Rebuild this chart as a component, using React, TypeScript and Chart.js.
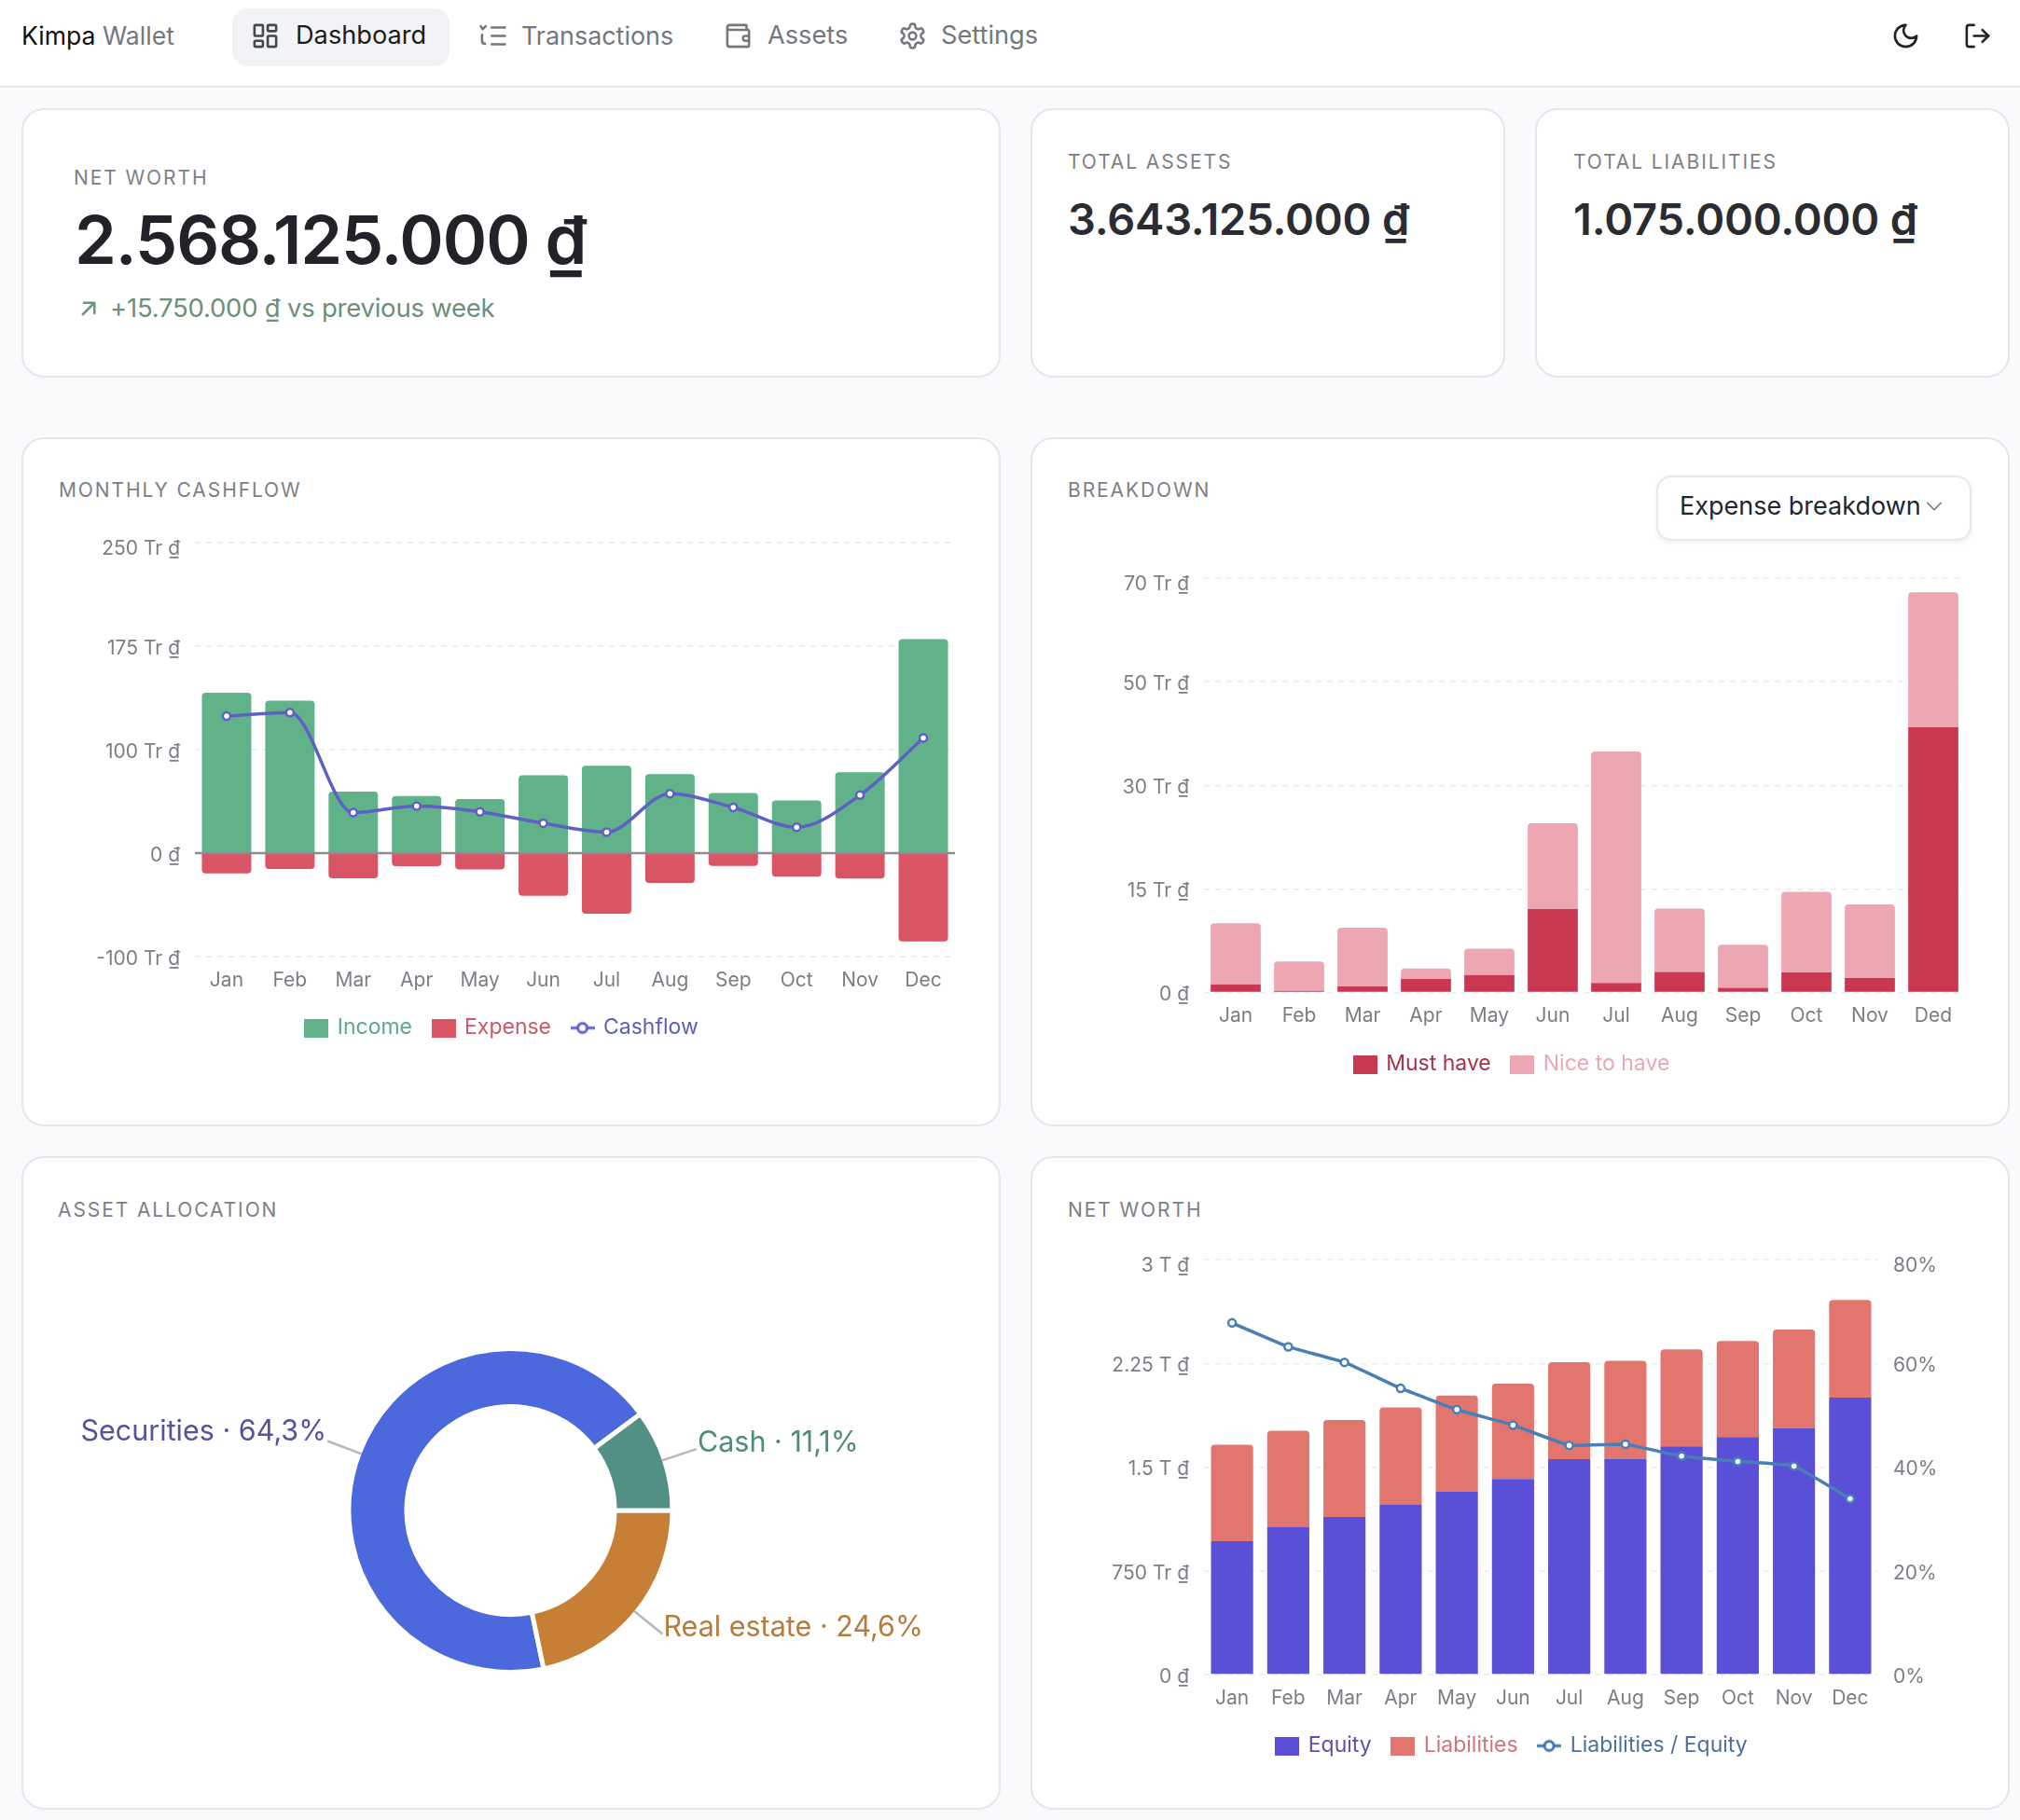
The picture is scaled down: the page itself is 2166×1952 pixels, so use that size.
import { useEffect, useRef } from "react";
import { Chart, registerables } from "chart.js";

Chart.register(...registerables);
Chart.defaults.font.family = "Inter";
Chart.defaults.animation = false;

const months = ["Jan", "Feb", "Mar", "Apr", "May", "Jun", "Jul", "Aug", "Sep", "Oct", "Nov", "Dec"];
const breakdownMonths = ["Jan", "Feb", "Mar", "Apr", "May", "Jun", "Jul", "Aug", "Sep", "Oct", "Nov", "Ded"];

// millions of dong
const income = [135.6, 128.9, 52, 48.3, 45.7, 65.8, 73.9, 66.9, 50.9, 44.6, 68.4, 181];
const expense = [-17.1, -13.4, -21.2, -11.1, -13.7, -36, -51.3, -25.3, -10.8, -20, -21.5, -74.7];
const cashflow = [115.9, 118.9, 34.2, 39.8, 34.9, 25.3, 17.8, 50.2, 38.6, 21.9, 49, 97.3];
const cashflowTicks = ["-100 Tr ₫", "0 ₫", "100 Tr ₫", "175 Tr ₫", "250 Tr ₫"];

const mustHave = [1.41, 0.3, 1.04, 2.3, 2.97, 14.1, 1.63, 3.49, 0.82, 3.41, 2.45, 44.8];
const niceToHave = [10.3, 4.96, 9.93, 1.78, 4.43, 14.5, 39.07, 10.7, 7.26, 13.6, 12.45, 22.8];
const breakdownTicks = ["0 ₫", "15 Tr ₫", "30 Tr ₫", "50 Tr ₫", "70 Tr ₫"];

const equity = [964, 1065, 1139, 1231, 1325, 1414, 1558, 1561, 1650, 1717, 1782, 2002];
const liabilities = [698, 698, 701, 701, 692, 689, 701, 707, 701, 695, 713, 707];
const leverage = [67.8, 63.2, 60.2, 55.2, 51.1, 48.1, 44.2, 44.4, 42.1, 41.1, 40.2, 33.9];
const netWorthTicks = ["0 ₫", "750 Tr ₫", "1.5 T ₫", "2.25 T ₫", "3 T ₫"];
const leverageTicks = ["0%", "20%", "40%", "60%", "80%"];

// slices as drawn (their printed labels differ a little from the arc sizes)
const assetShares = [68.1, 10.2, 21.7];
const assetLabels = ["Securities · 64,3%", "Cash · 11,1%", "Real estate · 24,6%"];
const assetColors = ["#4b68dc", "#528f85", "#c67f35"];
const assetTextColors = ["#55529f", "#4f8a7d", "#b87b3e"];
const assetLabelLift = [10, 6, 7];

const TICK = "#7b7e85";
const GRID = "#e9eaee";

// an empty first line pushes each value label down by half the line height
const tickFont = (ctx: any) => ({
  size: 21,
  lineHeight: (ctx.tick && ctx.tick.value === ctx.scale.max ? 14 : 5) / 21,
});

function boxMarker(color: string) {
  const c = document.createElement("canvas");
  c.width = 26;
  c.height = 20;
  const g = c.getContext("2d")!;
  g.fillStyle = color;
  g.fillRect(0, 0, 26, 20);
  return c;
}

function lineMarker(color: string) {
  const c = document.createElement("canvas");
  c.width = 26;
  c.height = 20;
  const g = c.getContext("2d")!;
  g.strokeStyle = color;
  g.lineWidth = 3;
  g.beginPath();
  g.moveTo(0, 10);
  g.lineTo(26, 10);
  g.stroke();
  g.fillStyle = "#fff";
  g.beginPath();
  g.arc(13, 10, 5, 0, Math.PI * 2);
  g.fill();
  g.stroke();
  return c;
}

function legend(markers: HTMLCanvasElement[], colors: string[]) {
  return {
    position: "bottom" as const,
    labels: {
      usePointStyle: true,
      pointStyleWidth: 22,
      boxHeight: 20,
      padding: 22.5,
      font: { size: 23 },
      generateLabels: (chart: Chart) =>
        chart.data.datasets.map((d, i) => ({
          text: d.label as string,
          fontColor: colors[i],
          pointStyle: markers[i],
          datasetIndex: i,
          lineWidth: 0,
          strokeStyle: "transparent",
          fillStyle: "transparent",
        })),
    },
  };
}

function tickText(labels: string[]) {
  return (_v: unknown, i: number) => ["", labels[i]];
}

function valueAxis(labels: string[], min: number, max: number, step: number, width: number) {
  return {
    min,
    max,
    stacked: true,
    afterFit: (s: any) => {
      s.width = width;
    },
    grid: { color: GRID, lineWidth: 1.5, drawTicks: false },
    border: { display: false, dash: [6, 6] },
    ticks: { stepSize: step, padding: 16, color: TICK, font: tickFont, callback: tickText(labels) },
  };
}

function monthAxis(height: number) {
  return {
    stacked: true,
    afterFit: (s: any) => {
      s.height = height;
    },
    grid: { display: false },
    border: { display: false },
    ticks: { padding: 4.6, color: TICK, font: { size: 21 }, maxRotation: 0, autoSkip: false },
  };
}

const zeroLine = {
  id: "zeroLine",
  afterDatasetsDraw(chart: Chart) {
    const { ctx, chartArea, scales } = chart;
    const y = scales.y.getPixelForValue(0);
    ctx.save();
    ctx.strokeStyle = "#8d8d8f";
    ctx.lineWidth = 2.5;
    ctx.beginPath();
    ctx.moveTo(chartArea.left, y);
    ctx.lineTo(chartArea.right, y);
    ctx.stroke();
    ctx.restore();
  },
};

// leader lines and labels around the doughnut
const sliceLabels = {
  id: "sliceLabels",
  afterDatasetsDraw(chart: Chart) {
    const { ctx } = chart;
    chart.getDatasetMeta(0).data.forEach((el: any, i) => {
      const mid = (el.startAngle + el.endAngle) / 2;
      const cos = Math.cos(mid);
      const sin = Math.sin(mid);
      const endX = el.x + cos * 210;
      const endY = el.y + sin * 210;
      ctx.save();
      ctx.strokeStyle = "#b6b7bc";
      ctx.lineWidth = 2.5;
      ctx.beginPath();
      ctx.moveTo(el.x + cos * 171, el.y + sin * 171);
      ctx.lineTo(endX, endY);
      ctx.stroke();
      ctx.fillStyle = assetTextColors[i];
      ctx.font = "30.5px Inter";
      ctx.textBaseline = "middle";
      ctx.textAlign = cos < 0 ? "right" : "left";
      ctx.fillText(assetLabels[i], endX + (cos < 0 ? -1 : 1), endY - assetLabelLift[i]);
      ctx.restore();
    });
  },
};

function cashflowConfig(): any {
  return {
    type: "bar",
    data: {
      labels: months,
      datasets: [
        { label: "Income", data: income, backgroundColor: "#61b289", borderRadius: 4, barPercentage: 0.78, categoryPercentage: 1, order: 2 },
        { label: "Expense", data: expense, backgroundColor: "#d95565", borderRadius: 4, barPercentage: 0.78, categoryPercentage: 1, order: 2 },
        {
          type: "line",
          label: "Cashflow",
          data: cashflow,
          borderColor: "#5d60c4",
          borderWidth: 3.5,
          cubicInterpolationMode: "monotone",
          pointRadius: 4,
          pointBorderWidth: 2.5,
          pointBackgroundColor: "#fff",
          pointBorderColor: "#5d60c4",
          order: 1,
        },
      ],
    },
    options: {
      responsive: false,
      animation: false,
      layout: { padding: { top: 14, left: 3 }, autoPadding: false },
      plugins: {
        legend: legend([boxMarker("#61b289"), boxMarker("#d95565"), lineMarker("#5d60c4")], ["#5fa888", "#c9596a", "#5d60b8"]),
        tooltip: { enabled: false },
      },
      scales: { x: monthAxis(42.5), y: valueAxis(cashflowTicks, -87.5, 262.5, 87.5, 156) },
    },
    plugins: [zeroLine],
  };
}

function breakdownConfig(): any {
  return {
    type: "bar",
    data: {
      labels: breakdownMonths,
      datasets: [
        { label: "Must have", data: mustHave, backgroundColor: "#c93750", barPercentage: 0.79, categoryPercentage: 1 },
        { label: "Nice to have", data: niceToHave, backgroundColor: "#eca7b3", borderRadius: 4, barPercentage: 0.79, categoryPercentage: 1 },
      ],
    },
    options: {
      responsive: false,
      animation: false,
      layout: { padding: { top: 14, left: 3 }, autoPadding: false },
      plugins: {
        legend: legend([boxMarker("#c93750"), boxMarker("#eca7b3")], ["#a63347", "#e9a8b4"]),
        tooltip: { enabled: false },
      },
      scales: { x: monthAxis(42.9), y: valueAxis(breakdownTicks, 0, 70, 17.5, 155) },
    },
  };
}

function netWorthConfig(): any {
  return {
    type: "bar",
    data: {
      labels: months,
      datasets: [
        { label: "Equity", data: equity, backgroundColor: "#5a50d8", barPercentage: 0.75, categoryPercentage: 1, yAxisID: "y", order: 2 },
        { label: "Liabilities", data: liabilities, backgroundColor: "#e2766f", borderRadius: 4, barPercentage: 0.75, categoryPercentage: 1, yAxisID: "y", order: 2 },
        {
          type: "line",
          label: "Liabilities / Equity",
          data: leverage,
          yAxisID: "y2",
          borderColor: "#4a7fb6",
          borderWidth: 3.5,
          tension: 0.1,
          pointRadius: 4,
          pointBorderWidth: 2.5,
          pointBackgroundColor: "#fff",
          pointBorderColor: "#4a7fb6",
          order: 1,
        },
      ],
    },
    options: {
      responsive: false,
      animation: false,
      layout: { padding: { top: 14, left: 3 }, autoPadding: false },
      plugins: {
        legend: legend([boxMarker("#5a50d8"), boxMarker("#e2766f"), lineMarker("#3f74ad")], ["#5c52ae", "#cf757b", "#4f7099"]),
        tooltip: { enabled: false },
      },
      scales: {
        x: monthAxis(42.5),
        y: valueAxis(netWorthTicks, 0, 3000, 750, 155),
        y2: {
          position: "right",
          min: 0,
          max: 80,
          afterFit: (s: any) => {
            s.width = 93;
          },
          grid: { display: false, drawTicks: false },
          border: { display: false },
          ticks: { stepSize: 20, padding: 16, color: TICK, font: tickFont, callback: tickText(leverageTicks) },
        },
      },
    },
  };
}

function allocationConfig(): any {
  return {
    type: "doughnut",
    data: {
      labels: assetLabels,
      datasets: [{ data: assetShares, backgroundColor: assetColors, borderColor: "#fff", borderWidth: 5, borderRadius: 0 }],
    },
    options: {
      responsive: false,
      animation: false,
      rotation: 168.2,
      radius: 173.5,
      cutout: "64.3%",
      plugins: { legend: { display: false }, tooltip: { enabled: false } },
    },
    plugins: [sliceLabels],
  };
}

function ChartCanvas({ config, left, top, width, height }: { config: () => any; left: number; top: number; width: number; height: number }) {
  const ref = useRef<HTMLCanvasElement | null>(null);
  useEffect(() => {
    if (!ref.current) return;
    const chart = new Chart(ref.current, config());
    return () => chart.destroy();
  }, [config]);
  return <canvas ref={ref} width={width} height={height} style={{ position: "absolute", left, top, width, height }} />;
}

function Card({ x, y, r, b }: { x: number; y: number; r: number; b: number }) {
  return (
    <div
      style={{
        position: "absolute",
        left: x,
        top: y,
        width: r - x,
        height: b - y,
        boxSizing: "border-box",
        background: "#fff",
        border: "2px solid #e4e6ec",
        borderRadius: 24,
      }}
    />
  );
}

// text placed by its left edge and vertical centre
function Label({ x, y, size, color, weight = 400, spacing = 0, children }: any) {
  return (
    <div
      style={{
        position: "absolute",
        left: x,
        top: y - 30,
        height: 60,
        lineHeight: "60px",
        fontSize: size,
        color,
        fontWeight: weight,
        letterSpacing: spacing,
        whiteSpace: "nowrap",
      }}
    >
      {children}
    </div>
  );
}

function Icon({ x, y, size = 31, color, width = 2, children }: any) {
  return (
    <svg
      viewBox="0 0 24 24"
      width={size}
      height={size}
      fill="none"
      stroke={color}
      strokeWidth={width}
      strokeLinecap="round"
      strokeLinejoin="round"
      style={{ position: "absolute", left: x, top: y }}
    >
      {children}
    </svg>
  );
}

const heading = { size: 21, color: "#7c7f86", spacing: 1.9 };
const NAV = "#74777e";

export default function App() {
  return (
    <div style={{ position: "absolute", left: 0, top: 0, width: 2166, height: 1952, overflow: "hidden", background: "#f9fafc", fontFamily: "Inter" }}>
      <div style={{ position: "absolute", left: 0, top: 0, width: 2166, height: 92, background: "#fff", borderBottom: "2px solid #e4e6ec" }} />
      <Label x={23} y={38} size={26.6} color="#111">
        Kimpa <span style={{ color: NAV }}>Wallet</span>
      </Label>
      <div style={{ position: "absolute", left: 249, top: 9, width: 233, height: 62, borderRadius: 16, background: "#f2f3f7" }} />
      <Icon x={269} y={23} color="#44474e">
        <rect x="3" y="3" width="7" height="9" rx="1" />
        <rect x="14" y="3" width="7" height="5" rx="1" />
        <rect x="14" y="12" width="7" height="9" rx="1" />
        <rect x="3" y="16" width="7" height="5" rx="1" />
      </Icon>
      <Label x={317} y={38} size={27.2} color="#1b1c20">Dashboard</Label>
      <Icon x={513} y={23} color={NAV}>
        <path d="M11 5h11M11 12h11M11 19h11M2 4l1.5 2.5L6 4M3 11v5c0 1.5 1 2.5 2.5 2.5" />
      </Icon>
      <Label x={559} y={38} size={26.9} color={NAV}>Transactions</Label>
      <Icon x={776} y={23} color={NAV}>
        <path d="M19 7V4a1 1 0 0 0-1-1H5a2 2 0 0 0 0 4h15a1 1 0 0 1 1 1v12a1 1 0 0 1-1 1H5a2 2 0 0 1-2-2V5" />
        <path d="M21 12h-3a2 2 0 0 0 0 4h3" />
      </Icon>
      <Label x={823} y={38} size={27.2} color={NAV}>Assets</Label>
      <Icon x={963} y={23} color={NAV}>
        <path d="M12.22 2h-.44a2 2 0 0 0-2 2v.18a2 2 0 0 1-1 1.73l-.43.25a2 2 0 0 1-2 0l-.15-.08a2 2 0 0 0-2.73.73l-.22.38a2 2 0 0 0 .73 2.73l.15.1a2 2 0 0 1 1 1.72v.51a2 2 0 0 1-1 1.74l-.15.09a2 2 0 0 0-.73 2.73l.22.38a2 2 0 0 0 2.73.73l.15-.08a2 2 0 0 1 2 0l.43.25a2 2 0 0 1 1 1.73V20a2 2 0 0 0 2 2h.44a2 2 0 0 0 2-2v-.18a2 2 0 0 1 1-1.73l.43-.25a2 2 0 0 1 2 0l.15.08a2 2 0 0 0 2.73-.73l.22-.39a2 2 0 0 0-.73-2.73l-.15-.08a2 2 0 0 1-1-1.74v-.5a2 2 0 0 1 1-1.74l.15-.09a2 2 0 0 0 .73-2.73l-.22-.38a2 2 0 0 0-2.73-.73l-.15.08a2 2 0 0 1-2 0l-.43-.25a2 2 0 0 1-1-1.73V4a2 2 0 0 0-2-2z" />
        <circle cx="12" cy="12" r="3" />
      </Icon>
      <Label x={1009} y={38} size={27.2} color={NAV}>Settings</Label>
      <Icon x={2028} y={23} color="#222">
        <path d="M12 3a6 6 0 0 0 9 9 9 9 0 1 1-9-9Z" />
      </Icon>
      <Icon x={2105} y={23} color="#222">
        <path d="M9 21H5a2 2 0 0 1-2-2V5a2 2 0 0 1 2-2h4" />
        <path d="m16 17 5-5-5-5" />
        <path d="M21 12H9" />
      </Icon>

      <Card x={23} y={116} r={1073} b={405} />
      <Card x={1105} y={116} r={1614} b={405} />
      <Card x={1646} y={116} r={2155} b={405} />
      <Card x={23} y={469} r={1073} b={1208} />
      <Card x={1105} y={469} r={2155} b={1208} />
      <Card x={23} y={1240} r={1073} b={1941} />
      <Card x={1105} y={1240} r={2155} b={1941} />

      <Label x={79} y={191} {...heading}>NET WORTH</Label>
      <Label x={80} y={257} size={72} weight={600} spacing={-1.1} color="#212328">2.568.125.000 ₫</Label>
      <Icon x={80} y={316} size={30} color="#6d947c">
        <path d="M7 17 17 7M8 7h9v9" />
      </Icon>
      <Label x={118} y={330} size={27.5} spacing={-0.23} color="#6d8f79">+15.750.000 ₫ vs previous week</Label>

      <Label x={1145} y={174} {...heading}>TOTAL ASSETS</Label>
      <Label x={1145} y={235} size={47} weight={600} spacing={-0.2} color="#2a2c31">3.643.125.000 ₫</Label>
      <Label x={1687} y={174} {...heading}>TOTAL LIABILITIES</Label>
      <Label x={1687} y={235} size={47} weight={600} spacing={-0.2} color="#2a2c31">1.075.000.000 ₫</Label>

      <Label x={63} y={526} {...heading}>MONTHLY CASHFLOW</Label>
      <Label x={1145} y={526} {...heading}>BREAKDOWN</Label>
      <Label x={62} y={1298} {...heading}>ASSET ALLOCATION</Label>
      <Label x={1145} y={1298} {...heading}>NET WORTH</Label>

      <div
        style={{
          position: "absolute",
          left: 1776,
          top: 510,
          width: 338,
          height: 70,
          boxSizing: "border-box",
          background: "#fff",
          border: "2px solid #e7e8ed",
          borderRadius: 16,
          boxShadow: "0 2px 5px rgba(30,35,50,0.08)",
        }}
      />
      <Label x={1801} y={543} size={27} color="#24262b">Expense breakdown</Label>
      <Icon x={2063} y={532} size={22} color="#6d7077" width={1.6}>
        <path d="m4 8 8 8 8-8" />
      </Icon>

      <ChartCanvas config={cashflowConfig} left={50} top={552} width={974} height={572} />
      <ChartCanvas config={breakdownConfig} left={1133} top={590} width={974} height={573} />
      <ChartCanvas config={allocationConfig} left={40} top={1340} width={1015} height={560} />
      <ChartCanvas config={netWorthConfig} left={1133} top={1321} width={974} height={573} />
    </div>
  );
}
